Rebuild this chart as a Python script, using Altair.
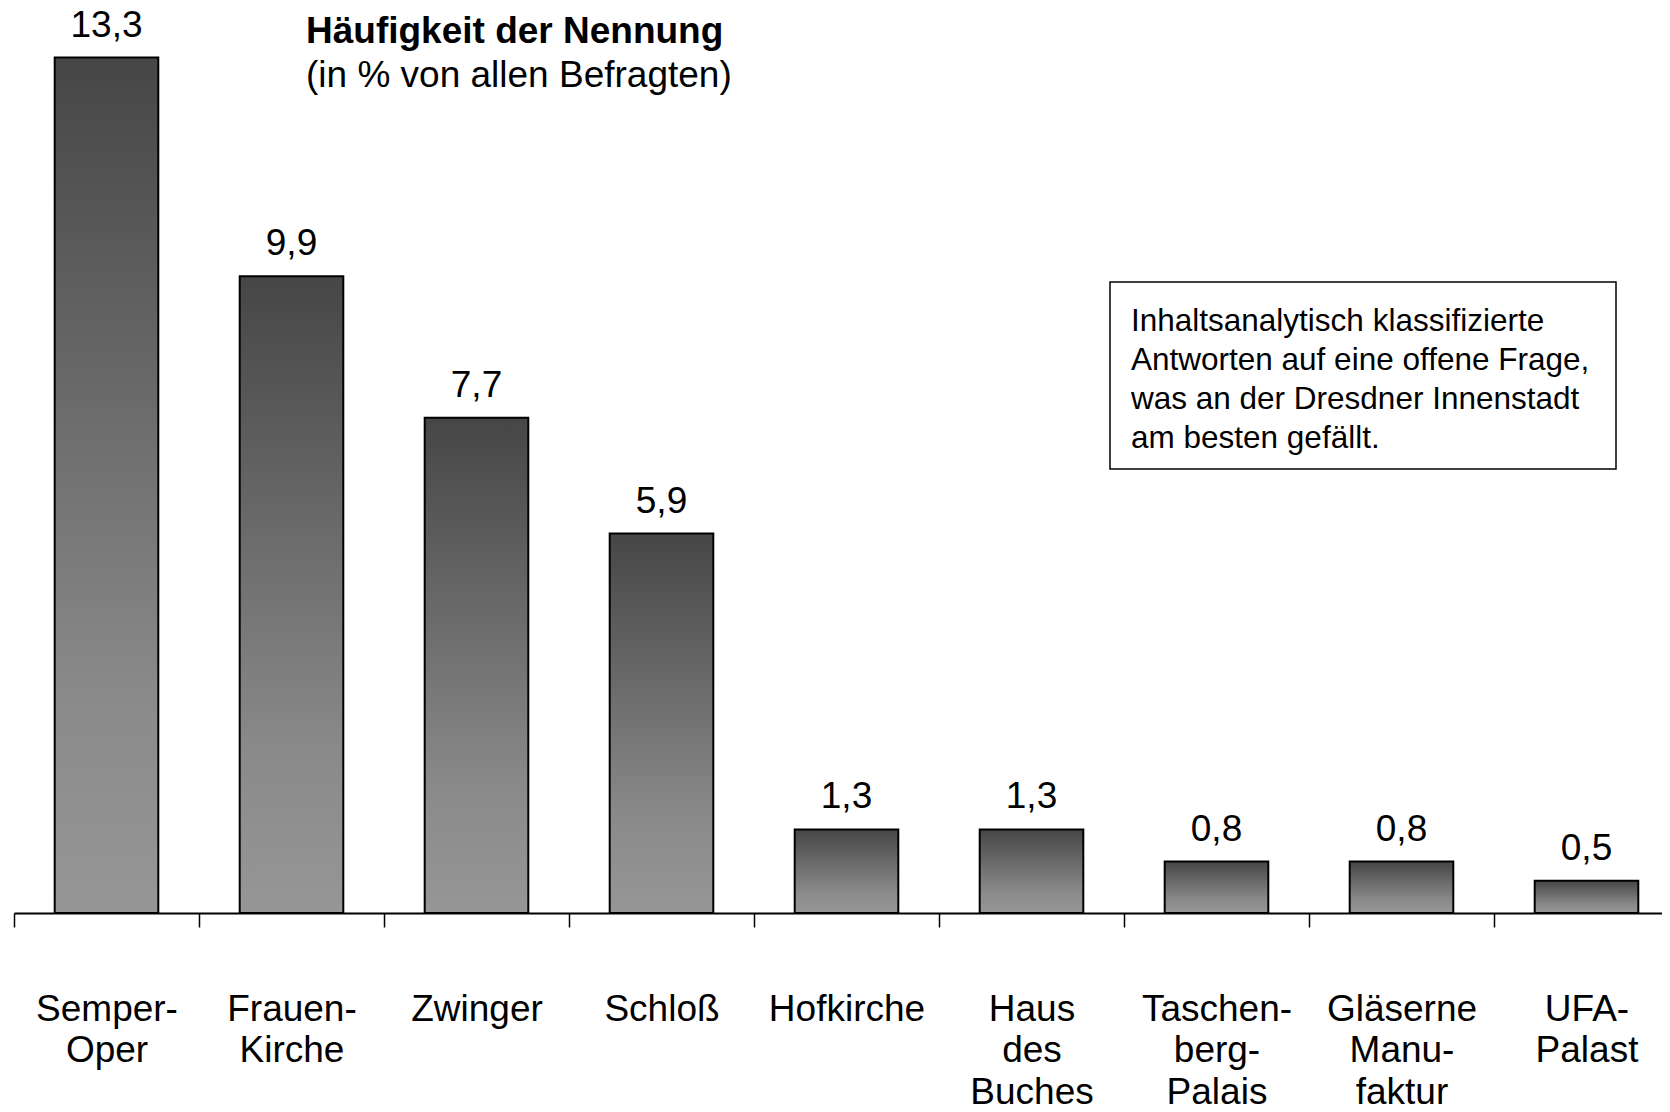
import altair as alt
import pandas as pd

categories = ["Semper-|Oper", "Frauen-|Kirche", "Zwinger", "Schloß", "Hofkirche",
              "Haus|des|Buches", "Taschen-|berg-|Palais", "Gläserne|Manu-|faktur", "UFA-|Palast"]
values = [13.3, 9.9, 7.7, 5.9, 1.3, 1.3, 0.8, 0.8, 0.5]
value_labels = ["13,3", "9,9", "7,7", "5,9", "1,3", "1,3", "0,8", "0,8", "0,5"]

title_main = "Häufigkeit der Nennung"
title_sub = "(in % von allen Befragten)"
note_lines = ["Inhaltsanalytisch klassifizierte",
              "Antworten auf eine offene Frage,",
              "was an der Dresdner Innenstadt",
              "am besten gefällt."]

FONT = "Liberation Sans, Arial, Helvetica, sans-serif"

df = pd.DataFrame({"cat": categories, "val": values, "lab": value_labels})

x_enc = alt.X("cat:N", sort=categories, title=None,
              scale=alt.Scale(range=[0, 1665], paddingInner=0, paddingOuter=0),
              axis=alt.Axis(labelExpr="isString(datum.value) ? split(datum.value, '|') : ''",
                            labelAngle=0,
                            labelFontSize=37, labelFont=FONT, labelColor="black",
                            labelBaseline="alphabetic", labelLineHeight=41.5,
                            labelPadding=93, labelLimit=500, labelOverlap=False,
                            tickSize=14, tickColor="black", tickWidth=1.5,
                            tickBand="extent", domainColor="black", domainWidth=2))
y_enc = alt.Y("val:Q", scale=alt.Scale(domain=[0, 14.07], nice=False, zero=True),
              axis=None)

gradient = alt.Gradient(
    gradient="linear",
    stops=[alt.GradientStop(color="#464646", offset=0),
           alt.GradientStop(color="#6f6f6f", offset=0.45),
           alt.GradientStop(color="#8a8a8a", offset=0.75),
           alt.GradientStop(color="#969696", offset=1)],
    x1=0, x2=0, y1=0, y2=1)

bars = alt.Chart(df).mark_bar(color=gradient, stroke="black", strokeWidth=2,
                              width=alt.RelativeBandSize(0.56)).encode(
    x=x_enc, y=y_enc)

labels = alt.Chart(df).mark_text(font=FONT, fontSize=37, color="black",
                                 baseline="alphabetic", dy=-21).encode(
    x=alt.X("cat:N", sort=categories), y="val:Q", text="lab:N")

ann = pd.DataFrame({"k": [0]})
title1 = alt.Chart(ann).mark_text(text=title_main, font=FONT, fontSize=37, fontWeight="bold",
                                  align="left", baseline="alphabetic", color="black").encode(
    x=alt.value(292), y=alt.value(35))
title2 = alt.Chart(ann).mark_text(text=title_sub, font=FONT, fontSize=37,
                                  align="left", baseline="alphabetic", color="black").encode(
    x=alt.value(292), y=alt.value(79))

box = alt.Chart(ann).mark_rect(fill="white", stroke="black", strokeWidth=1.5).encode(
    x=alt.value(1096), x2=alt.value(1602), y=alt.value(274), y2=alt.value(461))
note = alt.Chart(ann).mark_text(text=note_lines, font=FONT, fontSize=31.5, lineHeight=39,
                                align="left", baseline="alphabetic", color="black").encode(
    x=alt.value(1117), y=alt.value(323))

chart = alt.layer(bars, labels, title1, title2, box, note).properties(
    width=1648, height=905,
    autosize=alt.AutoSizeParams(type="none"),
    padding={"left": 6, "top": 0, "right": 0, "bottom": 191},
    view=alt.ViewBackground(stroke=None, strokeWidth=0),
).configure_view(stroke=None, strokeWidth=0).configure(background="white")

chart.save("out.html", embed_options={"renderer": "svg", "actions": False})
